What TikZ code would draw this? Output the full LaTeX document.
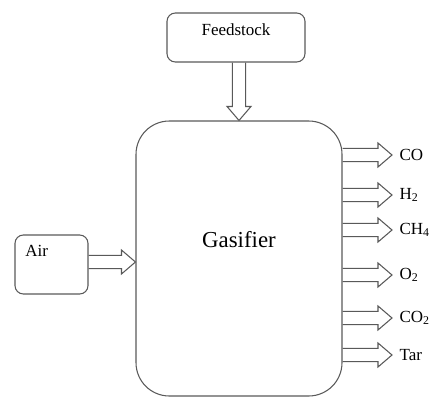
\documentclass[tikz,border=0pt]{standalone}
\usepackage{fontspec}
\setmainfont{Liberation Serif}
\usetikzlibrary{calc}

\def\shaft{0.2}
\def\head{0.36}
\def\headlen{0.42}

\newcommand{\rightflow}[2]{%
  \draw[flow] ($(#1)+(0,\shaft)$) -- ($(#2)+(-\headlen,\shaft)$) -- ($(#2)+(-\headlen,\head)$) -- (#2)
    -- ($(#2)+(-\headlen,-\head)$) -- ($(#2)+(-\headlen,-\shaft)$) -- ($(#1)+(0,-\shaft)$);}
\newcommand{\downflow}[2]{%
  \draw[flow] ($(#1)+(-\shaft,0)$) -- ($(#2)+(-\shaft,\headlen)$) -- ($(#2)+(-\head,\headlen)$) -- (#2)
    -- ($(#2)+(\head,\headlen)$) -- ($(#2)+(\shaft,\headlen)$) -- ($(#1)+(\shaft,0)$);}

\begin{document}
\begin{tikzpicture}[font=\fontsize{14.5}{17}\selectfont]
    \tikzstyle{box}=[rectangle,rounded corners=0.25cm,line width=0.9pt,draw=black!65,inner sep=0pt]
    \tikzstyle{flow}=[line width=0.9pt,draw=black!65,line join=miter]
    \tikzstyle{lab}=[anchor=west,inner xsep=0.22cm,inner ysep=1pt]

    \useasboundingbox (0,0) rectangle (12.9,11.91);

    \node[box,minimum width=4.14cm,minimum height=1.47cm,
      label={[anchor=north,yshift=-0.2cm]north:Feedstock}] (feed) at (7.08,10.785) {};
    \node[box,rounded corners=1cm,minimum width=6.18cm,minimum height=8.25cm,
      label={[yshift=0.555cm,font=\fontsize{19.5}{22}\selectfont]center:Gasifier}] (gas) at (7.17,4.155) {};
    \node[box,minimum width=2.19cm,minimum height=1.77cm,
      label={[anchor=north west,xshift=0.2cm,yshift=-0.2cm]north west:Air}] (air) at (1.545,3.975) {};

    \node[lab] (co) at (11.76,7.26) {CO};
    \node[lab] (h2) at (11.76,6.06) {H\textsubscript{2}};
    \node[lab] (ch4) at (11.76,5.01) {CH\textsubscript{4}};
    \node[lab] (o2) at (11.76,3.66) {O\textsubscript{2}};
    \node[lab] (co2) at (11.76,2.37) {CO\textsubscript{2}};
    \node[lab] (tar) at (11.76,1.26) {Tar};

    \coordinate (feedout) at (gas.north |- feed.south);
    \coordinate (airout) at ($(air.east)+(0,0.075)$);
    \downflow{feedout}{gas.north}
    \rightflow{airout}{gas.west |- airout}
    \foreach \p in {co,h2,ch4,o2,co2,tar}
        {\rightflow{gas.east |- \p.west}{\p.west}}
\end{tikzpicture}
\end{document}
